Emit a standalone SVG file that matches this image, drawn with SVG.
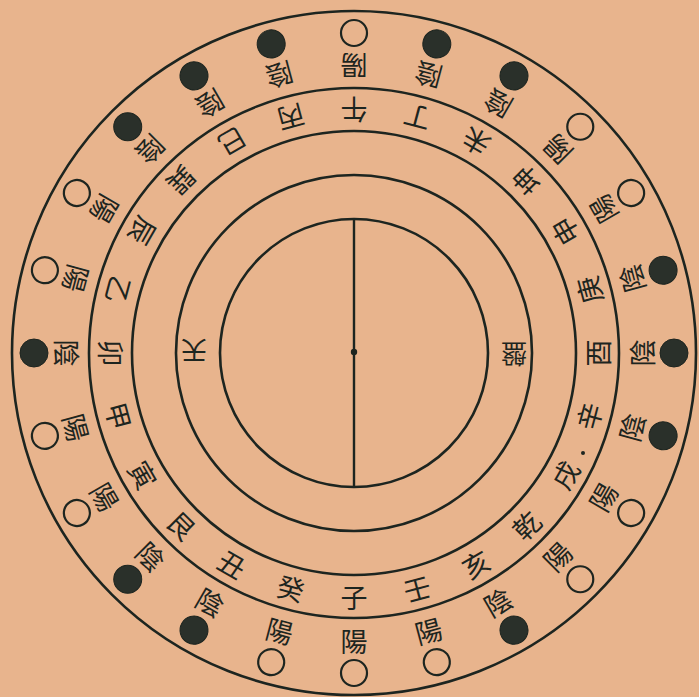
<svg xmlns="http://www.w3.org/2000/svg" width="699" height="697" viewBox="0 0 699 697">
<defs>
<style>
.ring{fill:none;stroke:#1d2520;stroke-width:2.6}
.t{font-family:"Noto Sans CJK TC","Noto Sans CJK SC",serif;font-size:27px;fill:#1d2520;text-anchor:middle;dominant-baseline:central}
.c{font-family:"Noto Sans CJK TC","Noto Sans CJK SC",serif;font-size:26px;fill:#1d2520;text-anchor:middle;dominant-baseline:central}
.yang{fill:none;stroke:#1d2520;stroke-width:2.2}
.yin{fill:#2a302a;stroke:#1d2520;stroke-width:1}
</style>
<circle id="yangdot" class="yang" cx="0" cy="320" r="13"/>
<circle id="yindot" class="yin" cx="0" cy="320" r="14"/>
</defs>
<rect width="699" height="697" fill="#e8b48d"/>
<g id="connectors">
<circle class="ring" cx="354" cy="353" r="342"/>
<circle class="ring" cx="354" cy="353" r="265"/>
<circle class="ring" cx="354" cy="353" r="222"/>
<circle class="ring" cx="354" cy="353" r="178"/>
<circle class="ring" cx="354" cy="353" r="134"/>
<line x1="354" y1="220" x2="354" y2="486" stroke="#1d2520" stroke-width="2.4"/>
<circle cx="354" cy="352" r="3.2" fill="#1d2520"/>
<circle cx="583" cy="453" r="2" fill="#1d2520"/>
</g>
<g id="inner-labels">
<text class="c" transform="translate(194,352) rotate(180)">天</text>
<text class="c" transform="translate(514,355) rotate(180)">盤</text>
</g>
<g transform="translate(354,353)">
<g id="s-zi" transform="rotate(0)"><text class="t" y="243">子</text><text class="t" y="287">陽</text><use href="#yangdot"/></g>
<g id="s-ren" transform="rotate(-15)"><text class="t" y="243">壬</text><text class="t" y="287">陽</text><use href="#yangdot"/></g>
<g id="s-hai" transform="rotate(-30)"><text class="t" y="243">亥</text><text class="t" y="287">陰</text><use href="#yindot"/></g>
<g id="s-qian" transform="rotate(-45)"><text class="t" y="243">乾</text><text class="t" y="287">陽</text><use href="#yangdot"/></g>
<g id="s-xu" transform="rotate(-60)"><text class="t" y="243">戌</text><text class="t" y="287">陽</text><use href="#yangdot"/></g>
<g id="s-xin" transform="rotate(-75)"><text class="t" y="243">辛</text><text class="t" y="287">陰</text><use href="#yindot"/></g>
<g id="s-you" transform="rotate(-90)"><text class="t" y="243">酉</text><text class="t" y="287">陰</text><use href="#yindot"/></g>
<g id="s-geng" transform="rotate(-105)"><text class="t" y="243">庚</text><text class="t" y="287">陰</text><use href="#yindot"/></g>
<g id="s-shen" transform="rotate(-120)"><text class="t" y="243">申</text><text class="t" y="287">陽</text><use href="#yangdot"/></g>
<g id="s-kun" transform="rotate(-135)"><text class="t" y="243">坤</text><text class="t" y="287">陽</text><use href="#yangdot"/></g>
<g id="s-wei" transform="rotate(-150)"><text class="t" y="243">未</text><text class="t" y="287">陰</text><use href="#yindot"/></g>
<g id="s-ding" transform="rotate(-165)"><text class="t" y="243">丁</text><text class="t" y="287">陰</text><use href="#yindot"/></g>
<g id="s-wu" transform="rotate(180)"><text class="t" y="243">午</text><text class="t" y="287">陽</text><use href="#yangdot"/></g>
<g id="s-bing" transform="rotate(165)"><text class="t" y="243">丙</text><text class="t" y="287">陰</text><use href="#yindot"/></g>
<g id="s-si" transform="rotate(150)"><text class="t" y="243">巳</text><text class="t" y="287">陰</text><use href="#yindot"/></g>
<g id="s-xun" transform="rotate(135)"><text class="t" y="243">巽</text><text class="t" y="287">陰</text><use href="#yindot"/></g>
<g id="s-chen" transform="rotate(120)"><text class="t" y="243">辰</text><text class="t" y="287">陽</text><use href="#yangdot"/></g>
<g id="s-yi" transform="rotate(105)"><text class="t" y="243">乙</text><text class="t" y="287">陽</text><use href="#yangdot"/></g>
<g id="s-mao" transform="rotate(90)"><text class="t" y="243">卯</text><text class="t" y="287">陰</text><use href="#yindot"/></g>
<g id="s-jia" transform="rotate(75)"><text class="t" y="243">甲</text><text class="t" y="287">陽</text><use href="#yangdot"/></g>
<g id="s-yin" transform="rotate(60)"><text class="t" y="243">寅</text><text class="t" y="287">陽</text><use href="#yangdot"/></g>
<g id="s-gen" transform="rotate(45)"><text class="t" y="243">艮</text><text class="t" y="287">陰</text><use href="#yindot"/></g>
<g id="s-chou" transform="rotate(30)"><text class="t" y="243">丑</text><text class="t" y="287">陰</text><use href="#yindot"/></g>
<g id="s-gui" transform="rotate(15)"><text class="t" y="243">癸</text><text class="t" y="287">陽</text><use href="#yangdot"/></g>
</g>
</svg>
